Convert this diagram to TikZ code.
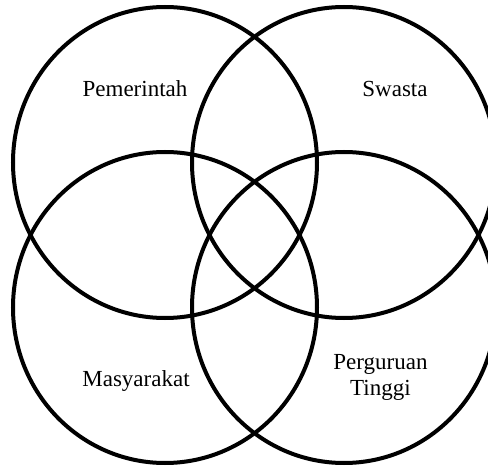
\documentclass[tikz,border=0pt]{standalone}
\usepackage{fontspec}
\setmainfont{Liberation Serif}
\usetikzlibrary{shapes.geometric}
\tikzset{
  ring/.style={ellipse, draw=black, line width=4pt, minimum width=304pt, minimum height=311pt, inner sep=0pt},
  lbl/.style={font=\fontsize{23}{26}\selectfont, align=center, inner sep=0pt}
}
\begin{document}
\begin{tikzpicture}[x=1pt,y=-1pt]
\useasboundingbox (0,0) rectangle (488,468);
\clip (0,0) rectangle (488,468);
\fill[white] (0,0) rectangle (488,468);
\node[ring] (pem) at (165,162.5) {};
\node[ring] (swa) at (344,162.5) {};
\node[ring] (mas) at (165,307.5) {};
\node[ring] (pt) at (344,307.5) {};
\node[lbl, anchor=base] (tpem) at (135,96.7) {Pemerintah};
\node[lbl, anchor=base] (tswa) at (395,96.7) {Swasta};
\node[lbl, anchor=base] (tmas) at (136,386) {Masyarakat};
\node[lbl, anchor=base] (tpt1) at (380.5,370) {Perguruan};
\node[lbl, anchor=base] (tpt2) at (380.5,395.5) {Tinggi};
\end{tikzpicture}
\end{document}
